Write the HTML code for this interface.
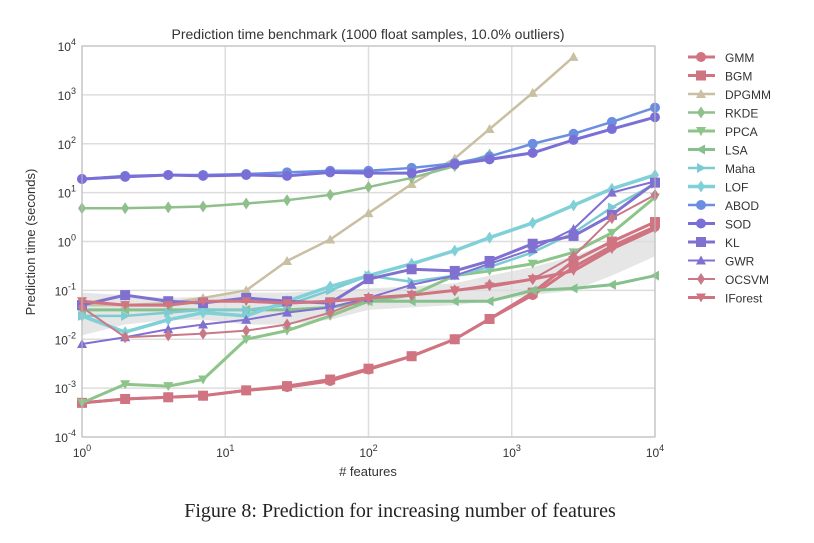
<!DOCTYPE html>
<html><head><meta charset="utf-8"><style>
body{margin:0;background:#fff;width:814px;height:543px;overflow:hidden}
svg{display:block;font-family:"Liberation Sans",sans-serif}
</style></head><body>
<svg id="chart" width="814" height="543" xmlns="http://www.w3.org/2000/svg">
<text x="368" y="39" text-anchor="middle" font-size="14" fill="#333">Prediction time benchmark (1000 float samples, 10.0% outliers)</text>
<g id="grid"></g>
<g id="band"></g>
<g id="series"></g>
<g id="axes"></g>
<g id="legend"></g>
<text transform="translate(35,242) rotate(-90)" text-anchor="middle" font-size="13" fill="#333">Prediction time (seconds)</text>
<text x="368" y="476" text-anchor="middle" font-size="13" fill="#333"># features</text>
<text x="400" y="517" text-anchor="middle" font-size="20" fill="#222" font-family="Liberation Serif,serif">Figure 8: Prediction for increasing number of features</text>
</svg>
<script>
const features=[1,2,4,7,14,27,54,100,200,400,700,1400,2700,5000,10000];
const seriesNames=["GMM","BGM","DPGMM","RKDE","PPCA","LSA","Maha","LOF","ABOD","SOD","KL","GWR","OCSVM","IForest"];
const GMM=[5e-4,6e-4,6.5e-4,7e-4,9e-4,1.05e-3,1.4e-3,2.4e-3,4.5e-3,1e-2,2.6e-2,8e-2,0.3,0.8,2.0];
const BGM=[5e-4,6e-4,6.5e-4,7e-4,9e-4,1.1e-3,1.5e-3,2.5e-3,4.5e-3,1e-2,2.6e-2,9e-2,0.4,1.0,2.5];
const DPGMM=[0.05,0.05,0.055,0.07,0.1,0.4,1.1,3.8,15,50,200,1100,6000,null,null];
const RKDE=[4.8,4.8,5,5.2,6,7,9,13,20,35,60,null,null,null,null];
const PPCA=[5e-4,1.2e-3,1.1e-3,1.5e-3,1e-2,1.5e-2,3e-2,0.06,0.08,0.2,0.25,0.35,0.6,1.5,8];
const LSA=[0.04,0.04,0.04,0.04,0.04,0.04,0.045,0.06,0.06,0.06,0.06,0.1,0.11,0.13,0.2];
const Maha=[0.03,0.03,0.035,0.04,0.04,0.05,0.1,0.2,0.15,0.2,0.3,0.6,1.5,5,15];
const LOF=[0.03,0.014,0.025,0.035,0.03,0.06,0.12,0.2,0.35,0.65,1.2,2.4,5.5,12,23];
const ABOD=[19,22,23,23,24,26,28,28,32,40,55,100,160,280,550];
const SOD=[19,21,23,22,23,22,26,25,25,38,48,65,120,200,350];
const KL=[0.05,0.08,0.06,0.055,0.07,0.06,0.055,0.17,0.27,0.25,0.4,0.9,1.3,3.5,16];
const GWR=[0.008,0.011,0.016,0.02,0.025,0.035,0.045,0.07,0.13,0.2,0.35,0.7,1.8,10,17];
const OCSVM=[0.045,0.011,0.012,0.013,0.015,0.02,0.035,0.07,0.08,0.1,0.13,0.17,0.5,3,9];
const IForest=[0.06,0.05,0.05,0.06,0.06,0.055,0.06,0.07,0.08,0.1,0.12,0.17,0.25,0.7,1.8];
const bandLow=[0.012,0.02,0.025,0.025,0.02,0.02,0.025,0.04,0.045,0.05,0.06,0.08,0.1,0.2,0.5];
const bandHigh=[0.09,0.08,0.07,0.075,0.09,0.09,0.1,0.11,0.12,0.14,0.2,0.3,0.5,1,2];
const xTicks=[0,1,2,3,4];
const yTicks=[-4,-3,-2,-1,0,1,2,3,4];
const data=[GMM,BGM,DPGMM,RKDE,PPCA,LSA,Maha,LOF,ABOD,SOD,KL,GWR,OCSVM,IForest];
const colors=["#cf7480","#cf7480","#c9bfa2","#8fbf8b","#8cc48a","#86c18d","#7ccbd2","#80d0d8","#6c8ee0","#7a6fd6","#8070d0","#7f70d2","#c97888","#cf7480"];
const markers=["circle","square","triangle","diamond","tridown","trileft","triright","diamond","circle","circle","square","triangle","diamond","tridown"];
const widths=[3,3,2.5,2.5,3,3,2.5,3.5,2.5,3,3,2,2,3];
const X0=82,X1=655,Y0=437,Y1=46;
const sx=v=>X0+Math.log10(v)/4*(X1-X0);
const sy=v=>Y0-(Math.log10(v)+4)/8*(Y0-Y1);
const NS="http://www.w3.org/2000/svg";
function mk(t,a,p){const e=document.createElementNS(NS,t);for(const k in a)e.setAttribute(k,a[k]);p.appendChild(e);return e;}
const grid=document.getElementById('grid');
mk('rect',{x:X0,y:Y1,width:X1-X0,height:Y0-Y1,fill:'#fff'},grid);
xTicks.forEach(t=>{const l=mk('line',{x1:sx(10**t),x2:sx(10**t),y1:Y1,y2:Y0,stroke:'#ddd','stroke-width':1.5},grid);});
yTicks.forEach(t=>{const l=mk('line',{x1:X0,x2:X1,y1:sy(10**t),y2:sy(10**t),stroke:'#ddd','stroke-width':1.5},grid);});
const band=document.getElementById('band');
let pts=features.map((f,i)=>sx(f)+','+sy(bandHigh[i])).concat(features.map((f,i)=>sx(f)+','+sy(bandLow[i])).reverse());
mk('polygon',{points:pts.join(' '),fill:'#dcdcdc','fill-opacity':0.7},band);
function marker(g,type,x,y,c,s){
 let e;
 if(type==='circle')e=mk('circle',{cx:x,cy:y,r:s},g);
 else if(type==='square')e=mk('rect',{x:x-s,y:y-s,width:2*s,height:2*s},g);
 else{let p;
  if(type==='triangle')p=[[0,-s],[s,s*.8],[-s,s*.8]];
  else if(type==='tridown')p=[[0,s],[s,-s*.8],[-s,-s*.8]];
  else if(type==='trileft')p=[[-s,0],[s*.8,-s],[s*.8,s]];
  else if(type==='triright')p=[[s,0],[-s*.8,-s],[-s*.8,s]];
  else p=[[0,-s*1.2],[s*.8,0],[0,s*1.2],[-s*.8,0]];
  e=mk('polygon',{points:p.map(q=>(x+q[0])+','+(y+q[1])).join(' ')},g);}
 e.setAttribute('fill',c);return e;
}
const sg=document.getElementById('series');
data.forEach((arr,si)=>{
 const g=mk('g',{},sg);
 
 
 const p=[];arr.forEach((v,i)=>{if(v!=null)p.push(sx(features[i])+','+sy(v));});
 mk('polyline',{points:p.join(' '),fill:'none',stroke:colors[si],'stroke-width':widths[si],'stroke-linejoin':'round'},g);
 arr.forEach((v,i)=>{if(v!=null){const m=marker(g,markers[si],sx(features[i]),sy(v),colors[si],5);}});
});
const ax=document.getElementById('axes');
mk('rect',{x:X0,y:Y1,width:X1-X0,height:Y0-Y1,fill:'none',stroke:'#bbb','stroke-width':1},ax);
xTicks.forEach(t=>{const tx=mk('text',{x:sx(10**t),y:Y0+20,'text-anchor':'middle','font-size':12,fill:'#333'},ax);tx.innerHTML='10<tspan dy="-6" font-size="9">'+t+'</tspan>';});
yTicks.forEach(t=>{const tx=mk('text',{x:X0-6,y:sy(10**t)+5,'text-anchor':'end','font-size':12,fill:'#333'},ax);tx.innerHTML='10<tspan dy="-6" font-size="9">'+t+'</tspan>';});
const lg=document.getElementById('legend');
seriesNames.forEach((n,i)=>{const y=57+i*18.5;const g=mk('g',{},lg);
 
 
 mk('line',{x1:688,x2:715,y1:y,y2:y,stroke:colors[i],'stroke-width':widths[i]},g);
 marker(g,markers[i],701,y,colors[i],5);
 const t=mk('text',{x:725,y:y+5,'font-size':12,fill:'#333'},g);t.textContent=n;});
</script>
</body></html>
